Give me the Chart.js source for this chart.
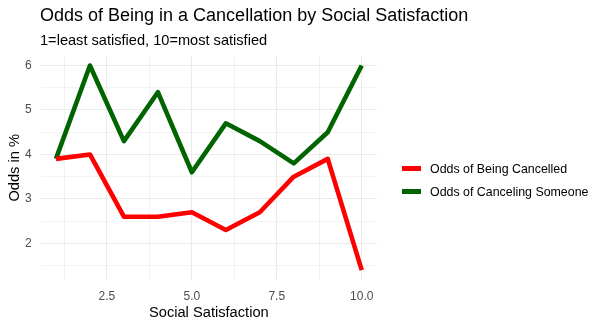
<!DOCTYPE html>
<html>
<head>
<meta charset="utf-8">
<script src="https://cdn.jsdelivr.net/npm/chart.js@4"></script>
<style>
  html, body { margin: 0; padding: 0; background: #fff; }
  #wrap { position: relative; width: 604px; height: 328px; font-family: "Liberation Sans", Arial, sans-serif; color: #000; }
  #wrap div { position: absolute; white-space: nowrap; line-height: 1; }
  #title { left: 40px; top: 5.8px; font-size: 18px; }
  #subtitle { left: 40px; top: 32.6px; font-size: 14.6px; }
  .key { left: 402px; width: 19px; height: 5px; }
  .lbl { left: 430px; font-size: 12.4px; }
  canvas { position: absolute; left: 0; top: 0; }
</style>
</head>
<body>
<div id="wrap">
  <canvas id="chart" width="604" height="328"></canvas>
  <div id="title">Odds of Being in a Cancellation by Social Satisfaction</div>
  <div id="subtitle">1=least satisfied, 10=most satisfied</div>
  <div class="key" style="top:165.5px;background:#ff0000"></div>
  <div class="lbl" style="top:162.7px">Odds of Being Cancelled</div>
  <div class="key" style="top:189.2px;background:#006400"></div>
  <div class="lbl" style="top:186.4px">Odds of Canceling Someone</div>
</div>
<script>
const satisfaction = [1, 2, 3, 4, 5, 6, 7, 8, 9, 10];
const beingCancelled = [3.9, 4.0, 2.6, 2.6, 2.7, 2.3, 2.7, 3.5, 3.9, 1.4];
const cancelingSomeone = [3.9, 6.0, 4.3, 5.4, 3.6, 4.7, 4.3, 3.8, 4.5, 6.0];
const xTicks = [1.25, 2.5, 3.75, 5, 6.25, 7.5, 8.75, 10];
const yTicks = [1.5, 2, 2.5, 3, 3.5, 4, 4.5, 5, 5.5, 6];

const font = "'Liberation Sans', Arial, sans-serif";

new Chart(document.getElementById("chart"), {
  type: 'line',
  data: {
    datasets: [{
      label: 'Odds of Being Cancelled',
      data: satisfaction.map((x, i) => ({ x: x, y: beingCancelled[i] })),
      borderColor: '#ff0000',
      borderWidth: 4.6,
      pointRadius: 0,
      borderJoinStyle: 'round',
      tension: 0
    }, {
      label: 'Odds of Canceling Someone',
      data: satisfaction.map((x, i) => ({ x: x, y: cancelingSomeone[i] })),
      borderColor: '#006400',
      borderWidth: 4.6,
      pointRadius: 0,
      borderJoinStyle: 'round',
      tension: 0
    }]
  },
  options: {
    responsive: false,
    animation: false,
    devicePixelRatio: 1,
    layout: { padding: { left: 5, top: 55.3, right: 227, bottom: 6.2 } },
    plugins: {
      legend: { display: false },
      tooltip: { enabled: false }
    },
    scales: {
      x: {
        type: 'linear',
        min: 0.55,
        max: 10.45,
        afterBuildTicks: s => { s.ticks = xTicks.map(v => ({ value: v })); },
        grid: {
          color: '#ebebeb',
          tickColor: 'rgba(0,0,0,0)',
          tickLength: 9.5,
          lineWidth: c => (c.tick && c.tick.value % 2.5 === 0) ? 1 : 0.6
        },
        border: { display: false },
        ticks: {
          padding: 0,
          maxRotation: 0,
          autoSkip: false,
          color: '#4d4d4d',
          font: { family: font, size: 12 },
          callback: v => (v % 2.5 === 0) ? v.toFixed(1) : ''
        },
        title: { display: true, text: 'Social Satisfaction', color: '#000', font: { family: font, size: 14.67 }, padding: 0 }
      },
      y: {
        min: 1.17,
        max: 6.23,
        afterBuildTicks: s => { s.ticks = yTicks.map(v => ({ value: v })); },
        grid: {
          color: '#ebebeb',
          tickColor: 'rgba(0,0,0,0)',
          tickLength: 9,
          lineWidth: c => (c.tick && Number.isInteger(c.tick.value)) ? 1 : 0.6
        },
        border: { display: false },
        ticks: {
          padding: 0,
          autoSkip: false,
          color: '#4d4d4d',
          font: { family: font, size: 12 },
          callback: v => Number.isInteger(v) ? String(v) : ''
        },
        title: { display: true, text: 'Odds in %', color: '#000', font: { family: font, size: 14.67 }, padding: { top: 1.2, bottom: 1.2 } }
      }
    }
  }
});
</script>
</body>
</html>
